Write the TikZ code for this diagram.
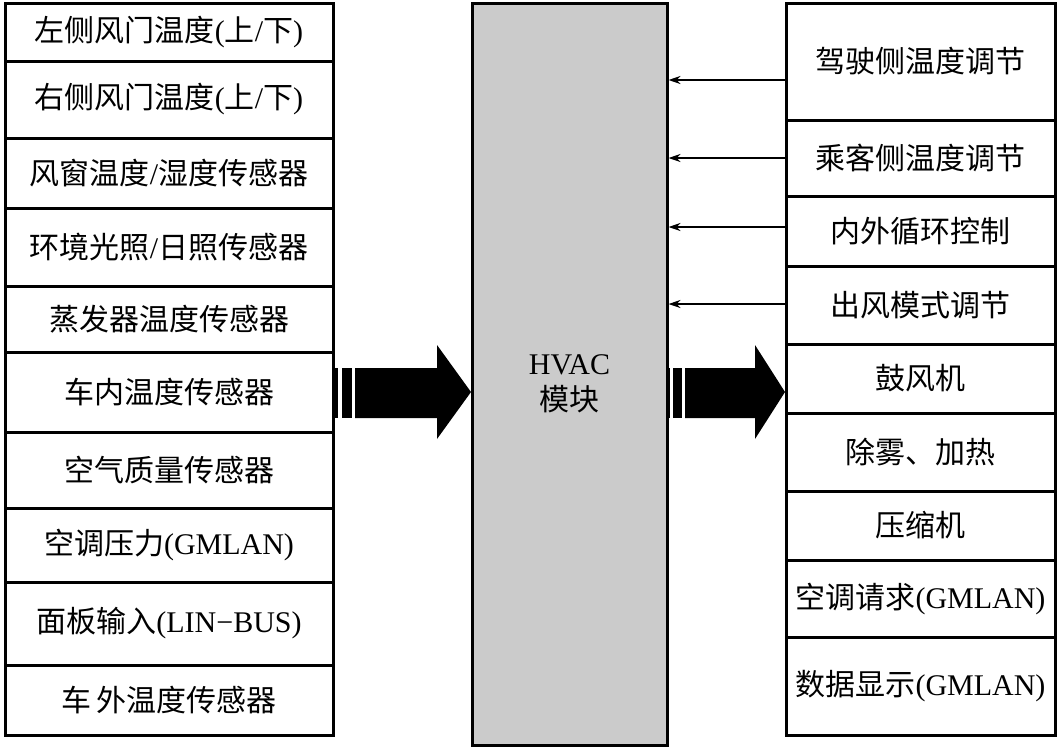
\documentclass[tikz,border=0pt]{standalone}
\usepackage{fontspec}
\usetikzlibrary{arrows.meta}
\setmainfont{Liberation Serif}
\newfontfamily\cjk{Noto Sans CJK SC}
\newcommand\zh[1]{{\cjk #1}}
\definecolor{hvacgray}{HTML}{CBCBCB}
\begin{document}
\begin{tikzpicture}[x=1pt,y=-1pt,
  every node/.style={font=\fontsize{30}{36}\selectfont},
  lbox/.style={draw=black,line width=3pt,rectangle,minimum width=328pt,inner sep=0pt},
  rbox/.style={draw=black,line width=3pt,rectangle,minimum width=269pt,inner sep=0pt},
  hbox/.style={draw=black,line width=3pt,fill=hvacgray,rectangle,minimum width=195pt,minimum height=742pt,inner sep=0pt},
  smallarrow/.style={line width=1.5pt,-{Stealth[length=12pt,width=8pt]}},
  bigarrow/.style={fill=black,draw=none}
]
\useasboundingbox (0,0) rectangle (1060,747);
\fill[white] (0,0) rectangle (1060,747);

% left column
\node[lbox,minimum height=58pt] (l1) at (169,32) {\zh{左侧风门温度}(\zh{上}/\zh{下})};
\node[lbox,minimum height=77pt] (l2) at (169,99.5) {\zh{右侧风门温度}(\zh{上}/\zh{下})};
\node[lbox,minimum height=70pt] (l3) at (169,173) {\zh{风窗温度}/\zh{湿度传感器}};
\node[lbox,minimum height=78pt] (l4) at (169,247) {\zh{环境光照}/\zh{日照传感器}};
\node[lbox,minimum height=66pt] (l5) at (169,319) {\zh{蒸发器温度传感器}};
\node[lbox,minimum height=80pt] (l6) at (169,392) {\zh{车内温度传感器}};
\node[lbox,minimum height=76pt] (l7) at (169,470) {\zh{空气质量传感器}};
\node[lbox,minimum height=74pt] (l8) at (169,545) {\zh{空调压力}(GMLAN)};
\node[lbox,minimum height=83pt] (l9) at (169,623.5) {\zh{面板输入}(LIN−BUS)};
\node[lbox,minimum height=70pt] (l10) at (169,700) {\zh{车}\,\zh{外温度传感器}};

% HVAC module
\node[hbox] (hvac) at (569.5,374) {};
\node[align=center,inner sep=0pt] (hvaclabel) at ([yshift=-10pt]hvac.center) {HVAC\\\zh{模块}};

% right column
\node[rbox,minimum height=117pt] (r1) at (920.5,61.5) {\zh{驾驶侧温度调节}};
\node[rbox,minimum height=76pt] (r2) at (920.5,158) {\zh{乘客侧温度调节}};
\node[rbox,minimum height=70pt] (r3) at (920.5,231) {\zh{内外循环控制}};
\node[rbox,minimum height=78pt] (r4) at (920.5,305) {\zh{出风模式调节}};
\node[rbox,minimum height=69pt] (r5) at (920.5,378.5) {\zh{鼓风机}};
\node[rbox,minimum height=78pt] (r6) at (920.5,452) {\zh{除雾、加热}};
\node[rbox,minimum height=69pt] (r7) at (920.5,525.5) {\zh{压缩机}};
\node[rbox,minimum height=77pt] (r8) at (920.5,598.5) {\zh{空调请求}(GMLAN)};
\node[rbox,minimum height=98pt] (r9) at (920.5,686) {\zh{数据显示}(GMLAN)};

% small arrows
\draw[smallarrow] ([yshift=-18.5pt]r1.west) -- ([yshift=-18.5pt]r1.west -| hvac.east);
\draw[smallarrow] (r2.west) -- (r2.west -| hvac.east);
\draw[smallarrow] ([yshift=4pt]r3.west) -- ([yshift=4pt]r3.west -| hvac.east);
\draw[smallarrow] ([yshift=1pt]r4.west) -- ([yshift=1pt]r4.west -| hvac.east);

% big arrow left
\fill[bigarrow] (334,368) rectangle (338,418);
\fill[bigarrow] (342,368) rectangle (352,418);
\fill[bigarrow] (355,368) -- (437,368) -- (437,345) -- (471,392) -- (437,439) -- (437,418) -- (355,418) -- cycle;

% big arrow right
\fill[bigarrow] (668,368) rectangle (670,418);
\fill[bigarrow] (673,368) rectangle (682,418);
\fill[bigarrow] (685,368) -- (755,368) -- (755,345) -- (785,392) -- (755,439) -- (755,418) -- (685,418) -- cycle;
\end{tikzpicture}
\end{document}
